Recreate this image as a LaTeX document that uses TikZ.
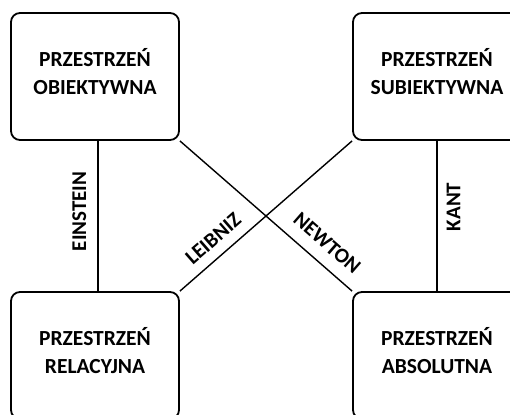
\documentclass[tikz,border=0pt]{standalone}
\usepackage{fontspec}
\setmainfont{Carlito}
\usetikzlibrary{backgrounds}
\begin{document}
\begin{tikzpicture}[x=1pt,y=-1pt,line join=round,line cap=round,font=\bfseries\fontsize{21.5}{28}\selectfont]
	\tikzset{space/.style={draw,line width=1.8pt,rounded corners=9pt,fill=white,align=center,minimum width=168pt,minimum height=127pt,inner sep=0pt,text depth=11pt},
		link/.style={line width=1.4pt},
		who/.style={font=\bfseries\fontsize{21}{24}\selectfont,inner sep=1pt}}
	\useasboundingbox (0,0) rectangle (510,414);
	\node[space] (obj) at (95,76.5) {PRZESTRZEŃ\\OBIEKTYWNA};
	\node[space] (sub) at (437,76.5) {PRZESTRZEŃ\\SUBIEKTYWNA};
	\node[space] (rel) at (95,355.5) {PRZESTRZEŃ\\RELACYJNA};
	\node[space] (abs) at (437,355.5) {PRZESTRZEŃ\\ABSOLUTNA};
	\begin{scope}[on background layer]
		\draw[link] ([xshift=3pt]obj.south) -- ([xshift=3pt]rel.north) node[who,pos=0.47,rotate=90,above=10pt]{EINSTEIN};
		\draw[link] (sub.south) -- (abs.north) node[who,pos=0.44,rotate=90,below=8pt]{KANT};
		\draw[link] (rel.north east) -- (sub.south west) node[who,pos=0.26,sloped,above=9pt]{LEIBNIZ};
		\draw[link] (obj.south east) -- (abs.north west) node[who,pos=0.78,sloped,above=11pt]{NEWTON};
	\end{scope}
\end{tikzpicture}
\end{document}
